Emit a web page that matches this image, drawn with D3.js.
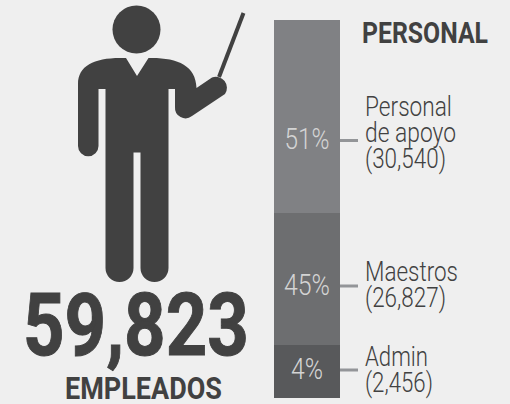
<!DOCTYPE html>
<html>
<head>
<meta charset="utf-8">
<script src="https://cdn.jsdelivr.net/npm/d3@7"></script>
<style>
  html, body { margin: 0; padding: 0; background: #efefef; }
  svg { display: block; }
  text { font-family: "Roboto", sans-serif; }
</style>
</head>
<body>
<svg id="chart"></svg>
<script>
// bottom to top, same order as the stack in the picture
const categories = ["Admin", "Maestros", "Personal de apoyo"];
const shares = [4, 45, 51];
const counts = ["(2,456)", "(26,827)", "(30,540)"];
const labelLines = [["Admin"], ["Maestros"], ["Personal", "de apoyo"]];
const colors = ["#58595b", "#6d6e70", "#808184"];
const total = "59,823";

const width = 510;
const height = 404;
const dark = "#414141";

const svg = d3.select("#chart").attr("width", width).attr("height", height);

// the source bar is not proportional, segment edges are pinned per category
const stack = d3.cumsum(shares);
const y = d3.scaleLinear()
  .domain([0, ...stack])
  .range([398, 345, 213, 20]);
const x = d3.scaleBand().domain(["personal"]).range([274, 340]);

const segs = categories.map((c, i) => ({
  name: c,
  share: shares[i],
  y0: i ? stack[i - 1] : 0,
  y1: stack[i],
  lines: labelLines[i].concat(counts[i]),
  color: colors[i],
}));

svg.append("g").selectAll("rect")
  .data(segs)
  .join("rect")
  .attr("x", x("personal"))
  .attr("width", x.bandwidth())
  .attr("y", (d) => y(d.y1))
  .attr("height", (d) => y(d.y0) - y(d.y1))
  .attr("fill", (d) => d.color);

// squeezes Roboto to the condensed width of the original lettering
function squeezed(sel, str, px, w, weight, fill, tx, ty) {
  const t = sel.append("text")
    .attr("font-size", px)
    .attr("font-weight", weight)
    .attr("fill", fill)
    .text(str);
  const natural = t.node().getComputedTextLength();
  return t.attr("transform", `translate(${tx},${ty}) scale(${w / natural},1)`);
}

const pctWidth = { 4: 32, 45: 46, 51: 45 };
const pctBase = { 4: 379, 45: 295, 51: 149 };
const lineY = { 4: 370, 45: 286, 51: 140.5 };
// first baseline and text width of each label line
const labelBase = { 4: 366, 45: 281, 51: 116 };
const labelW = {
  "Admin": 63, "Maestros": 93, "Personal": 87, "de apoyo": 91,
  "(2,456)": 68, "(26,827)": 81, "(30,540)": 81,
};

segs.forEach((d) => {
  squeezed(svg, d.share + "%", 29, pctWidth[d.share], 300, "#d4d4d4",
    x("personal") + (x.bandwidth() - pctWidth[d.share]) / 2, pctBase[d.share]);

  svg.append("line")
    .attr("x1", 340).attr("x2", 358)
    .attr("y1", lineY[d.share]).attr("y2", lineY[d.share])
    .attr("stroke", "#939598").attr("stroke-width", 3);

  d.lines.forEach((t, i) => {
    squeezed(svg, t, 27, labelW[t], 300, dark, 365, labelBase[d.share] + i * 26);
  });
});

squeezed(svg, "PERSONAL", 30, 126, 700, dark, 362, 42.5);
squeezed(svg, total, 88, 226, 700, dark, 23, 355).attr("stroke", dark).attr("stroke-width", 1);
squeezed(svg, "EMPLEADOS", 31, 157, 700, dark, 65, 399);

// teacher pictogram
const person = svg.append("g").attr("fill", dark);
person.append("circle").attr("cx", 136.5).attr("cy", 29.5).attr("r", 24);
person.append("path").attr("d",
  "M126,58 L137,76 L148.5,58 L152,58 C178,58 196,66 196.5,88 " +
  "L212,77.5 A11,11 0 0 1 225,94 L192,116 A10.5,10.5 0 0 1 175,107 " +
  "L175,89 L168.5,89 L168.5,268 A14,14 0 0 1 140.5,268 L140.5,152.5 " +
  "L133.5,152.5 L133.5,268 A14,14 0 0 1 105.5,268 L105.5,89 L98.5,89 " +
  "L98.5,146 A10.25,10.25 0 0 1 78,146 L78,84 C78,66 94,58 120,58 Z");
person.append("line")
  .attr("x1", 219).attr("y1", 77).attr("x2", 243.5).attr("y2", 13)
  .attr("stroke", dark).attr("stroke-width", 4);
</script>
</body>
</html>
